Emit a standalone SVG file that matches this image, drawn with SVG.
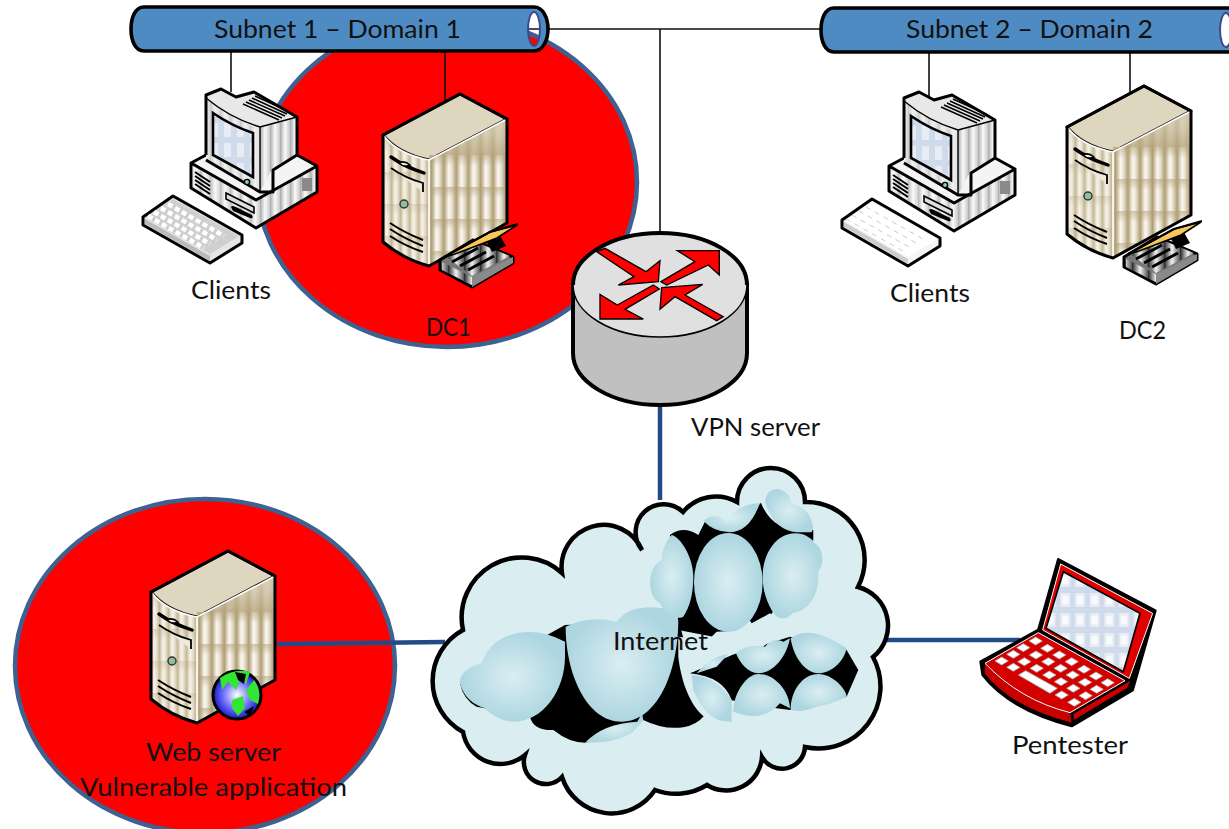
<svg xmlns="http://www.w3.org/2000/svg" width="1229" height="829" viewBox="0 0 1229 829">
<style>
text{font-family:"Lato","Carlito","Liberation Sans",sans-serif;font-size:25px;fill:#111}
.thin{stroke:#111;stroke-width:1.6;fill:none}
.thick{stroke:#234a86;stroke-width:4.5;fill:none}
.zone{fill:#ff0000;stroke:#3d6190;stroke-width:4.5}
.tubefill{fill:#4f8bc3;fill-rule:evenodd}
.tubeline{fill:none;stroke:#000;stroke-width:3.6}
.ol{stroke:#000;stroke-width:3;stroke-linejoin:round}
.ln{stroke:#000;stroke-width:2;fill:none}
.arrow{fill:#ff0000;stroke:#000;stroke-width:4;stroke-linejoin:miter}
</style>
<defs>
<linearGradient id="tan" x1="0" x2="1" y1="0" y2="0"><stop offset="0" stop-color="#bcab84"/><stop offset=".35" stop-color="#fbf9f4"/><stop offset=".6" stop-color="#e8e1cf"/><stop offset="1" stop-color="#a8966b"/></linearGradient>
<linearGradient id="rowShade" x1="0" x2="0" y1="0" y2="1"><stop offset="0" stop-color="#b09e75" stop-opacity=".55"/><stop offset=".35" stop-color="#b09e75" stop-opacity="0"/><stop offset="1" stop-color="#b09e75" stop-opacity="0"/></linearGradient>
<linearGradient id="tanV" x1="0" x2="0" y1="0" y2="1"><stop offset="0" stop-color="#dfd6bf" stop-opacity=".75"/><stop offset="1" stop-color="#b09e75" stop-opacity=".8"/></linearGradient>
<linearGradient id="grey" x1="0" x2="1" y1="0" y2="0"><stop offset="0" stop-color="#a8a8a8"/><stop offset=".5" stop-color="#fafafa"/><stop offset="1" stop-color="#c8c8c8"/></linearGradient>
<linearGradient id="dark" x1="0" x2="1" y1="0" y2="0"><stop offset="0" stop-color="#222"/><stop offset=".5" stop-color="#f2f2f2"/><stop offset="1" stop-color="#555"/></linearGradient>
<pattern id="tanTile" patternUnits="userSpaceOnUse" width="12.3" height="32" patternTransform="translate(0,29)"><rect width="12.3" height="32" fill="url(#tan)"/><rect width="12.3" height="32" fill="url(#rowShade)"/></pattern>
<pattern id="tanFront" patternUnits="userSpaceOnUse" width="9" height="32" patternTransform="translate(0,14)"><rect width="9" height="32" fill="#efe9da"/><rect width="9" height="32" fill="url(#tan)" opacity=".65"/><rect width="9" height="32" fill="url(#rowShade)" opacity=".5"/></pattern>
<pattern id="greyTile" patternUnits="userSpaceOnUse" width="10" height="14"><rect width="10" height="14" fill="url(#grey)"/></pattern>
<pattern id="driveTile" patternUnits="userSpaceOnUse" width="16" height="13"><rect width="16" height="13" fill="url(#dark)"/></pattern>
<pattern id="screen" patternUnits="userSpaceOnUse" width="13" height="20"><rect width="13" height="20" fill="#cfdaea"/><rect x="3" y="3" width="7" height="14" fill="#e8edf5"/></pattern>
<pattern id="screenL" patternUnits="userSpaceOnUse" width="44" height="60"><rect width="44" height="60" fill="#cfdaea"/><rect x="7" y="9" width="30" height="42" fill="#e8edf5"/><rect x="13" y="17" width="18" height="26" fill="#f8fafd"/></pattern>
<radialGradient id="puff"><stop offset="0" stop-color="#daeef2"/><stop offset="1" stop-color="#add6e0"/></radialGradient>
<radialGradient id="sea"><stop offset="0" stop-color="#ffffff"/><stop offset=".6" stop-color="#6a6aff"/><stop offset="1" stop-color="#1a1ac0"/></radialGradient>

<g id="server">
<path class="ol" fill="#dfd6bf" d="M0,41 L77,0 L124,25 L46,66 Q15,60 0,41Z"/>
<path fill="url(#tanTile)" d="M46,66 L124,25 V129 L46,172Z"/>
<path fill="url(#tanV)" d="M46,66 L124,25 V61 H46Z"/>
<path fill="url(#tanFront)" d="M0,41 Q15,60 46,66 V172 Q20,165 0,148Z"/>
<path fill="none" stroke="#fff" stroke-width="1.6" d="M1,42 Q15,60 46,66 L124,25 M46,66 V172"/>
<path class="ol" fill="none" d="M0,41 L77,0 L124,25 V129 L46,172 Q20,165 0,148Z"/>
<path stroke="#000" stroke-width="3.4" stroke-linecap="round" fill="none" d="M8,63 Q22,73 41,79"/>
<path stroke="#000" stroke-width="1.8" fill="#efe9da" d="M8,74 Q22,84 40,89 V98"/>
<path stroke="#000" stroke-width="1.6" fill="#f4f1e8" d="M16,69 q5,-3 11,2 q-6,3 -11,-2Z"/>
<circle cx="21" cy="110" r="4" fill="#8fbf9f" stroke="#333" stroke-width="1.4"/>
<path class="ln" d="M7,129 Q22,139 40,146 M7,135 Q22,145 40,152 M7,142 Q22,152 40,158"/>
</g>

<g id="drive">
<path class="ol" fill="#777" d="M440,260 L473,240 L513,257 V263 L472,287 L440,270Z"/>
<path fill="#8a8a8a" d="M472,277 L513,257 V263 L472,287Z"/>
<path fill="url(#driveTile)" d="M442,262 L472,277 V285 L442,270Z"/>
<path fill="url(#driveTile)" d="M448,258 L476,242 L510,256 L472,276Z"/>
<path stroke="#000" stroke-width="3" fill="none" d="M452,262 L478,248 M460,266 L486,252 M468,270 L494,256"/>
<path fill="#000" d="M484,236 L498,232 L506,246 L492,252Z"/>
<path fill="#f8c65a" stroke="#000" stroke-width="1.6" d="M445,257 L490,232 L517,225 L497,238 L455,254Z"/>
<path class="ln" stroke-width="2.4" d="M490,232 L518,224 M444,257 L490,232"/>
</g>

<g id="pcbody">
<path fill="#f4f4f4" d="M191,163 L206,155 L297,155 L317,166 L256,200Z"/>
<path fill="url(#greyTile)" d="M256,200 L317,166 V192 L256,228Z"/>
<path fill="url(#greyTile)" opacity=".8" d="M193,164 L256,200 V226 L193,188Z"/>
<path class="ol" stroke-width="3.4" fill="none" d="M206,155 L191,163 L256,200 L317,166 V192 L256,228 L191,188 V163 M297,155 L317,166"/>
<path class="ln" d="M195,176 L210,186 M195,180 L210,190 M195,184 L210,194 M195,172 L210,182"/>
<path stroke="#000" stroke-width="1.6" fill="#ddd" d="M226,193 L254,207 V213 L226,199Z"/>
<path fill="#000" d="M231,207 Q232,205 236,207 L252,215 Q254,219 250,218 L233,211Z"/>
<rect x="302" y="178" width="10" height="13" fill="#8a8a8a"/>
<path fill="#e8e8e8" d="M206,95 L221,89 L236,97 L254,92 L297,117 V155 L273,167 L260,192 L206,160Z"/>
<path fill="url(#greyTile)" d="M260,127 L297,117 V155 L273,167 L260,192Z"/>
<path fill="url(#greyTile)" opacity=".5" d="M208,100 Q230,118 258,129 V190 L208,159Z"/>
<path class="ol" stroke-width="3" fill="none" d="M206,155 V95 L221,89 L236,97 L254,92 L297,117 V155 L273,170 V192 L260,192 L206,160"/>
<path fill="none" stroke="#000" stroke-width="1.4" d="M206,98 Q230,118 260,127 V192 M260,127 L297,117"/>
<path fill="url(#screen)" stroke="#000" stroke-width="2.6" d="M213,113 Q232,126 253,133 V177 L213,155Z"/>
<circle cx="247" cy="182" r="2.6" fill="#7da" stroke="#000" stroke-width="1.4"/>
<path stroke="#000" stroke-width="1.5" fill="none" d="M249,100 L285,116 M252,98 L287,114 M246,102 L282,118 M255,96 L290,112 M243,104 L279,120"/>
</g>

<g id="laptopKey"><path fill="#fff" stroke="#aaa" stroke-width="2.5" stroke-linejoin="round" d="M-20,0 L0,-12 L20,0 L0,12Z"/></g>
</defs>

<g id="zone-dc1"><ellipse class="zone" cx="447" cy="182" rx="190" ry="165"/></g>
<g id="zone-web"><ellipse class="zone" cx="205" cy="666" rx="190" ry="167"/></g>

<g id="connectors">
<path class="thin" d="M231,51 V92 M445,51 V100 M529,29 H822 M660,29 V233 M929,52 V97 M1130,52 V92"/>
<path class="thick" d="M660,405 V500 M277,644 L445,642 M885,640 H1020"/>
</g>

<g id="subnet1">
<path class="tubefill" d="M144,7 H534 C543,7 548,18 548,29 C548,40 543,51 534,51 H144 C135,51 131,40 131,29 C131,18 135,7 144,7Z M534,12 C530,12 528,20 528,29 C528,38 530,46 534,46 C538,46 540,38 540,29 C540,20 538,12 534,12Z"/>
<path class="tubeline" d="M144,7 H534 C543,7 548,18 548,29 C548,40 543,51 534,51 H144 C135,51 131,40 131,29 C131,18 135,7 144,7Z"/>
<ellipse cx="534" cy="29" rx="6" ry="17" fill="none" stroke="#3c4a8c" stroke-width="2"/>
<text x="214" y="38" textLength="247" lengthAdjust="spacingAndGlyphs">Subnet 1 – Domain 1</text>
</g>

<g id="subnet2">
<path class="tubefill" d="M834,8 H1235 V52 H834 C825,52 821,41 821,30 C821,19 825,8 834,8Z"/>
<path class="tubeline" d="M1235,8 H834 C825,8 821,19 821,30 C821,41 825,52 834,52 H1235"/>
<ellipse cx="1226" cy="30" rx="6" ry="17" fill="#fff" stroke="#3c4a8c" stroke-width="2"/>
<text x="906" y="38" textLength="247" lengthAdjust="spacingAndGlyphs">Subnet 2 – Domain 2</text>
</g>

<g id="clients1">
<use href="#pcbody"/>
<path class="ol" stroke-width="3.4" fill="#e6e6e6" d="M173,196 L242,235 V243 L210,263 L143,225 V217Z"/>
<path fill="#bbb" d="M145,219 L210,256 V261 L145,224Z"/>
<path fill="#cfcfcf" d="M173,199 L239,236 L210,254 L146,218Z"/>
<path fill="none" stroke="#fff" stroke-width="4.5" stroke-dasharray="5 3" d="M168,204 L224,236 M161,208 L217,240 M154,212 L210,244 M148,216 L204,248"/>
<text x="191" y="299" textLength="80" lengthAdjust="spacingAndGlyphs">Clients</text>
</g>

<g id="dc1">
<use href="#server" transform="translate(383,94)"/>
<use href="#drive"/>
<text x="426" y="336" textLength="45" lengthAdjust="spacingAndGlyphs">DC1</text>
</g>

<g id="clients2">
<use href="#pcbody" transform="translate(698,3)"/>
<path class="ol" stroke-width="3.4" fill="#f4f4f4" d="M872,199 L940,238 V246 L908,266 L842,228 V220Z"/>
<path fill="#ccc" d="M844,222 L908,259 V264 L844,227Z"/>
<path fill="#fff" d="M872,202 L938,239 L908,257 L845,221Z"/>
<path fill="none" stroke="#ccc" stroke-width="1" stroke-dasharray="5 5" d="M866,207 L923,239 M859,211 L916,243 M852,215 L909,247 M846,219 L903,251"/>
<text x="890" y="302" textLength="80" lengthAdjust="spacingAndGlyphs">Clients</text>
</g>

<g id="dc2">
<use href="#server" transform="translate(1067,86)"/>
<use href="#drive" transform="translate(684,-3)"/>
<text x="1119" y="339" textLength="47" lengthAdjust="spacingAndGlyphs">DC2</text>
</g>

<g id="vpn">
<path fill="#c0c0c0" stroke="#000" stroke-width="4" d="M573,285 V353 C573,382 612,405 660,405 C708,405 747,382 747,353 V285Z"/>
<ellipse cx="660" cy="285" rx="87" ry="52" fill="#e0e0e0" stroke="#000" stroke-width="1.6"/>
<path fill="none" stroke="#000" stroke-width="4" d="M573,285 C573,256 612,233 660,233 C708,233 747,256 747,285"/>
<g transform="translate(560,220) scale(.3333)">
<polygon class="arrow" points="110,95 135,85 258,155 300,122 295,185 175,195 222,170"/>
<polygon class="arrow" points="303,185 405,125 352,92 478,92 478,165 445,135 320,195"/>
<polygon class="arrow" points="280,195 298,207 195,268 250,297 120,297 120,223 172,255"/>
<polygon class="arrow" points="490,290 470,302 345,230 300,268 305,203 428,193 375,225"/>
</g>
<text x="691" y="436" textLength="129" lengthAdjust="spacingAndGlyphs">VPN server</text>
</g>

<g id="internet">
<path fill="#daeef2" stroke="#000" stroke-width="4.5" stroke-linejoin="miter" d="M463,630 A60,60 0 0 1 562,573 A42,42 0 0 1 642,550 A28,28 0 0 1 683,512 A43,43 0 0 1 737,502 A34,34 0 0 1 805,502 A58,58 0 0 1 858,587 A40,40 0 0 1 873,657 A62,62 0 0 1 805,747 A23,23 0 0 1 762,757 A36,36 0 0 1 707,785 A59,59 0 0 1 655,790 A52,52 0 0 1 562,777 A22,22 0 0 1 525,755 A38,38 0 0 1 463,732 A58,58 0 0 1 463,630Z"/>
<g transform="translate(430,460) scale(.3333)">
<path d="M720,225 Q760,195 805,225 L825,185 Q900,235 993,128 Q1030,225 1150,210 V240 L1020,470 L980,495 L910,515 L850,530 L745,510 L740,400Z"/>
<path d="M90,670 Q100,720 140,740 L300,770 Q310,812 370,810 Q420,850 470,848 L640,780 Q700,810 760,802 Q800,795 825,765 L745,480 L405,495Z"/>
<path d="M780,640 L905,585 L1080,530 L1250,570 L1285,630 L1250,710 L1080,750 L1040,745 L900,720Z"/>
<path fill="#daeef2" d="M745,590 C755,680 790,750 830,775 L905,787 V720 Q880,650 780,640 L905,585 L930,560 L1000,560 L1020,540 L1065,530 Q1070,490 1020,460 L965,490 L935,445 L915,512 L860,515 L835,540 L745,530Z"/>
<g fill="url(#puff)">
<path d="M405,545 Q340,510 280,517 C200,525 170,570 155,610 C110,620 85,650 90,670 C100,710 130,735 165,745 C190,770 220,785 250,785 C340,785 405,690 405,590Z"/>
<path d="M407,500 Q480,465 560,485 Q600,430 700,445 L745,480 C745,640 680,785 575,785 C470,785 407,640 407,500Z"/>
<path d="M465,848 Q520,790 622,785 L636,760 L640,780 L610,815 Q560,850 465,848Z"/>
<ellipse cx="895" cy="367" rx="103" ry="148"/>
<path d="M998,350 C998,280 1040,220 1095,220 C1125,220 1145,235 1155,250 C1180,265 1185,310 1165,335 C1170,410 1130,455 1090,458 C1070,480 1050,480 1035,465 C1010,430 998,390 998,350Z"/>
<path d="M790,350 C790,290 750,230 725,225 C700,250 695,290 695,300 C650,320 650,410 690,430 C710,470 740,480 760,470 C780,440 790,400 790,350Z"/>
<path d="M820,182 Q860,150 895,190 Q900,140 990,128 Q960,215 900,217 Q850,215 820,182Z"/>
<path d="M1005,125 Q1010,85 1045,87 Q1080,95 1085,132 Q1140,140 1150,205 L1145,217 H1100 Q1030,210 1005,125Z"/>
<path d="M785,645 Q860,650 905,720 V785 Q830,790 790,690Z"/>
<path d="M800,640 Q840,590 895,582 L860,620Z"/>
<path d="M910,755 C910,700 950,642 985,642 C1040,642 1080,700 1080,745 L1050,730 Q1000,790 910,755Z"/>
<path d="M1082,750 C1082,690 1120,642 1165,642 C1210,642 1250,690 1250,710 Q1200,735 1160,740 Q1110,760 1082,750Z"/>
<path d="M918,580 Q950,550 1005,560 Q1030,530 1060,545 L1080,535 C1070,590 1030,640 985,640 C955,640 930,610 918,580Z"/>
<path d="M1082,535 Q1140,490 1250,565 C1240,610 1200,640 1165,640 C1125,640 1090,590 1082,535Z"/>
</g>
</g>
<text x="613" y="650" textLength="95" lengthAdjust="spacingAndGlyphs">Internet</text>
</g>

<g id="webserver">
<use href="#server" transform="translate(151,551)"/>
<circle cx="237" cy="695" r="24" fill="url(#sea)" stroke="#000" stroke-width="3"/>
<path fill="#33e633" d="M220,678 Q235,668 250,672 L246,684 L240,680 L236,690 L228,682 L222,690Z M254,680 Q262,690 258,704 L250,700 L246,690Z M232,700 L243,696 L245,708 L238,716 L232,708Z"/>
<path fill="#000" d="M235,672 L246,674 L244,684 L238,680Z M244,712 L254,706 L250,716Z"/>
<text x="146" y="761" textLength="135" lengthAdjust="spacingAndGlyphs">Web server</text>
<text x="80" y="796" textLength="267" lengthAdjust="spacingAndGlyphs">Vulnerable application</text>
</g>

<g id="pentester">
<g transform="translate(970,550) scale(.3333)">
<path fill="#000" stroke="#000" stroke-width="8" stroke-linejoin="round" d="M265,28 L556,182 L488,420 L305,528 Q120,480 38,375 L32,335 L205,240Z"/>
<path fill="#e00000" stroke="#fff" stroke-width="3" d="M272,42 L548,190 L478,385 L218,240Z"/>
<path fill="url(#screenL)" stroke="#000" stroke-width="5" d="M280,65 L510,190 L460,365 L228,235Z"/>
<path fill="#c80000" d="M45,342 Q150,450 300,490 L305,518 Q120,470 44,370Z"/>
<path fill="#c80000" d="M310,492 L482,392 L470,415 L312,510Z"/>
<path fill="#d40000" stroke="#fff" stroke-width="3" d="M205,248 L465,392 L300,488 Q150,450 45,340Z"/>
<use href="#laptopKey" x="197" y="273"/><use href="#laptopKey" x="232" y="295"/><use href="#laptopKey" x="268" y="315"/><use href="#laptopKey" x="305" y="335"/><use href="#laptopKey" x="342" y="358"/><use href="#laptopKey" x="378" y="378"/><use href="#laptopKey" x="413" y="398"/>
<use href="#laptopKey" x="160" y="293"/><use href="#laptopKey" x="198" y="315"/><use href="#laptopKey" x="235" y="335"/><use href="#laptopKey" x="272" y="355"/><use href="#laptopKey" x="308" y="375"/><use href="#laptopKey" x="345" y="397"/><use href="#laptopKey" x="380" y="418"/>
<use href="#laptopKey" x="130" y="313"/><use href="#laptopKey" x="163" y="335"/><use href="#laptopKey" x="200" y="355"/><use href="#laptopKey" x="238" y="375"/><use href="#laptopKey" x="273" y="395"/><use href="#laptopKey" x="310" y="415"/><use href="#laptopKey" x="347" y="437"/>
<use href="#laptopKey" x="95" y="333"/><use href="#laptopKey" x="130" y="352"/><use href="#laptopKey" x="275" y="435"/><use href="#laptopKey" x="313" y="457"/>
<path fill="#fff" stroke="#aaa" stroke-width="2.5" d="M145,375 L167,362 L262,415 L240,430Z"/>
</g>
<text x="1012" y="754" textLength="116" lengthAdjust="spacingAndGlyphs">Pentester</text>
</g>
</svg>
